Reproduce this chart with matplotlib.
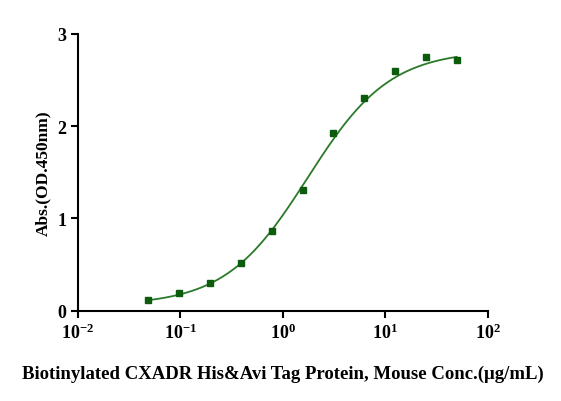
import numpy as np
import matplotlib
matplotlib.use("Agg")
import matplotlib.pyplot as plt

plt.rcParams['font.family'] = ['Liberation Serif']
plt.rcParams['mathtext.fontset'] = 'custom'
plt.rcParams['mathtext.rm'] = 'Liberation Serif:bold'
plt.rcParams['mathtext.it'] = 'Liberation Serif:bold'

conc = [0.048828, 0.097656, 0.195313, 0.390625, 0.78125, 1.5625, 3.125, 6.25, 12.5, 25, 50]
absb = [0.12, 0.19, 0.30, 0.52, 0.86, 1.31, 1.93, 2.30, 2.60, 2.75, 2.71]
# 4PL fit parameters (bottom, top, EC50, hill)
bottom, top, ec50, hill = 0.06, 2.82, 1.75, 1.08

fig = plt.figure(figsize=(5.61, 4.02), dpi=100)
ax = fig.add_axes([0.139, 0.224, 0.73, 0.69])
xs = np.logspace(np.log10(conc[0]), np.log10(conc[-1]), 300)
ys = bottom + (top - bottom) / (1 + (ec50 / xs) ** hill)
ax.plot(xs, ys, color='#2a7a2a', lw=1.3)
ax.plot(conc, absb, 's', color='#0d5c0d', ms=4.5)
ax.set_xscale('log')
ax.set_xlim(0.01, 100)
ax.set_ylim(0, 3)
ax.set_yticks([0, 1, 2, 3])
ax.set_xticks([0.01, 0.1, 1, 10, 100])
ax.set_xticklabels(['$10^{-2}$', '$10^{-1}$', '$10^{0}$', '$10^{1}$', '$10^{2}$'])
ax.minorticks_off()
ax.spines['top'].set_visible(False)
ax.spines['right'].set_visible(False)
for s in ['left', 'bottom']:
    ax.spines[s].set_linewidth(1.5)
ax.tick_params(width=1.5, length=5, labelsize=13)
for t in ax.get_yticklabels():
    t.set_fontweight('bold')
ax.set_ylabel('Abs.(OD.450nm)', fontsize=12.5, fontweight='bold')
ax.set_xlabel('Biotinylated CXADR His&Avi Tag Protein, Mouse Conc.(μg/mL)', fontsize=13.5,
              fontweight='bold', labelpad=16)
fig.savefig('out.png', dpi=100)
